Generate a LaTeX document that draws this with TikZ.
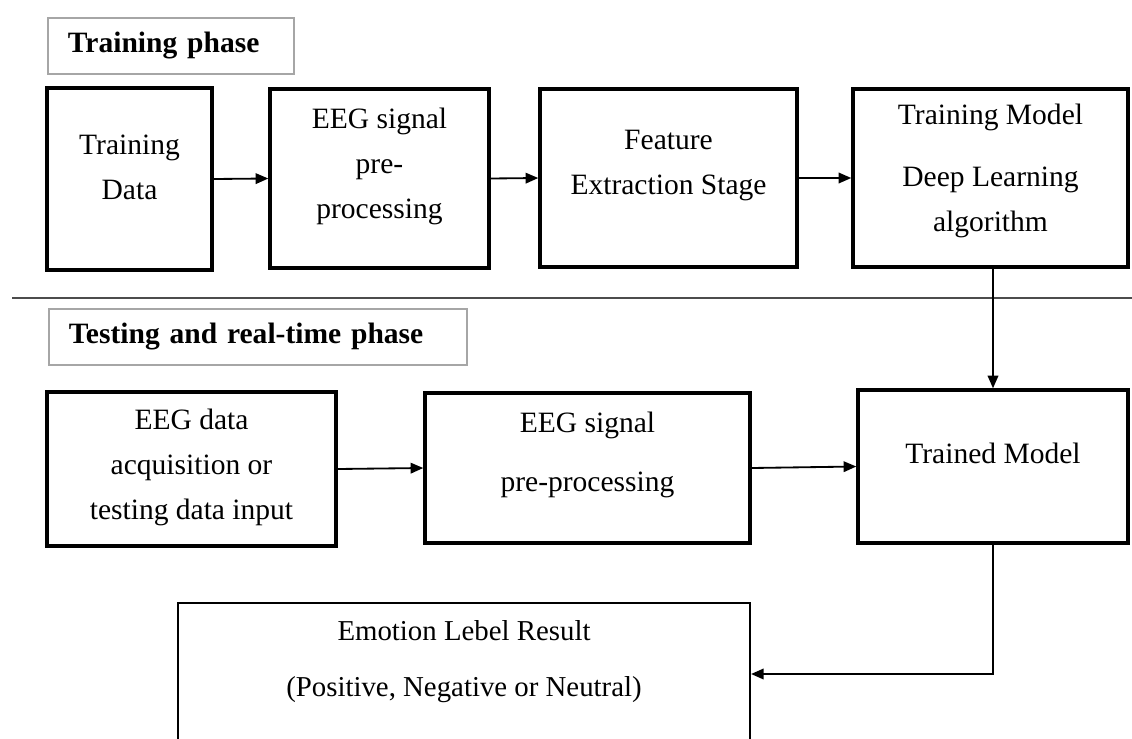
\documentclass[tikz,border=0pt]{standalone}
\usepackage{fontspec}
\setmainfont{Liberation Serif}
\usetikzlibrary{positioning,arrows.meta,calc}

\begin{document}
\begin{tikzpicture}[x=0.025cm, y=-0.025cm,
		stage_box/.style={draw=black, line width=2.4pt, inner sep=0pt},
		result_box/.style={draw=black, line width=1.4pt, inner sep=0pt},
		phase_box/.style={draw=gray!70, line width=0.8pt, minimum height=1.4cm, inner xsep=0.5cm, align=left, font=\fontsize{21}{26}\selectfont\bfseries},
		box_text/.style={align=center, font=\fontsize{21}{32}\selectfont},
		result_text/.style={align=center, font=\fontsize{20.5}{40.5}\selectfont},
		flow/.style={line width=1.3pt, -{Triangle[length=9pt, width=7.5pt]}},
		separator/.style={line width=1.2pt, gray!60!black}
		]
		
		\useasboundingbox (0,0) rectangle (1132,738);
		\clip (0,0) rectangle (1132,738);
		
		% training phase
		\node[phase_box, text width=5.15cm, yshift=-0.05cm] (train_phase) at (171,44) {Training phase};
		\node[stage_box, minimum width=4.125cm, minimum height=4.55cm, label={[box_text, yshift=0.29cm]center:Training\\Data}] (data) at (129.5,179) {};
		\node[stage_box, minimum width=5.475cm, minimum height=4.475cm, label={[box_text, yshift=0.3cm]center:EEG signal\\pre-\\processing}] (prep) at (379.5,178.5) {};
		\node[stage_box, minimum width=6.425cm, minimum height=4.45cm, label={[box_text, yshift=0.31cm]center:Feature\\Extraction Stage}] (feat) at (668.5,178) {};
		\node[stage_box, minimum width=6.875cm, minimum height=4.45cm, label={[box_text, yshift=0.18cm]center:Training Model\\[12pt]Deep Learning\\algorithm}] (model) at (990.5,178) {};
		
		\coordinate (sep_w) at (12,298); \coordinate (sep_e) at (1132,298);
		\draw[separator] (sep_w) -- (sep_e);
		
		% testing and real-time phase
		\node[phase_box, text width=9.45cm] (test_phase) at (258,337) {Testing and real-time phase};
		\node[stage_box, minimum width=7.225cm, minimum height=3.85cm, label={[box_text, yshift=0.04cm]center:EEG data\\acquisition or\\testing data input}] (acq) at (191.5,469) {};
		\node[stage_box, minimum width=8.125cm, minimum height=3.75cm, label={[box_text, yshift=0.33cm]center:EEG signal\\[10pt]pre-processing}] (sig) at (587.5,468) {};
		\node[stage_box, minimum width=6.75cm, minimum height=3.825cm, label={[box_text, yshift=0.34cm]center:Trained Model}] (trained) at (993,466.5) {};
		\node[result_box, minimum width=14.3cm, minimum height=3.55cm, label={[result_text, yshift=0.31cm]center:{Emotion Lebel Result\\(Positive, Negative or Neutral)}}] (result) at (464,674) {};
		
		\draw[flow] (data.east) -- (prep.west);
		\draw[flow] (prep.east) -- (feat.west);
		\draw[flow] (feat.east) -- (model.west);
		\draw[flow] (trained.north |- model.south) -- (trained.north);
		\draw[flow] (acq.east) -- (sig.west);
		\draw[flow] (sig.east) -- (trained.west);
		\draw[flow, line width=1.5pt] (trained.south) |- (result.east);
	\end{tikzpicture}
\end{document}
